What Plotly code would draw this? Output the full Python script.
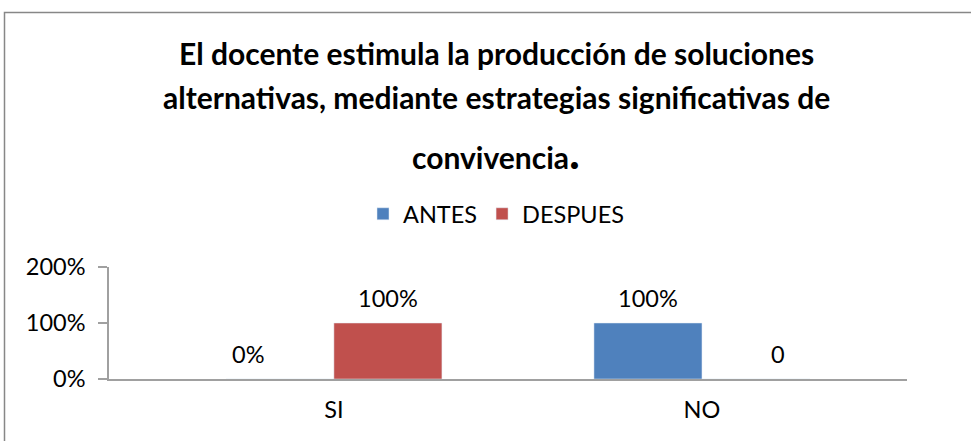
import plotly.graph_objects as go

categories = ["SI", "NO"]
antes = [0, 1]
despues = [1, 0]
antes_labels = ["0%", "100%"]
despues_labels = ["100%", "0"]
series_names = ["ANTES", "DESPUES"]
title_lines = [
    "El docente estimula la producción de soluciones",
    "alternativas, mediante estrategias significativas de",
    "convivencia<span style='font-size:46px'>.</span>",
]
y_ticks = [0, 1, 2]

BLUE = "#4F81BD"
RED = "#C0504D"
FONT = "Lato, Carlito, Calibri, sans-serif"
BODY = 23.5

# plot area in pixels
L, R, T, B = 109, 907, 267, 379
W, H = 971, 441

fig = go.Figure()
fig.add_trace(go.Bar(x=categories, y=antes, name=series_names[0], marker_color=BLUE))
fig.add_trace(go.Bar(x=categories, y=despues, name=series_names[1], marker_color=RED))

def px_x(p):
    return (p - L) / (R - L)

def px_y(p):
    return (B - p) / (B - T)

annotations = []
title_y = [53, 97, 151]
for line, yy in zip(title_lines, title_y):
    annotations.append(dict(
        text="<b>" + line + "</b>", xref="paper", yref="paper",
        x=px_x(496), y=px_y(yy), xanchor="center", yanchor="middle",
        showarrow=False, font=dict(family=FONT, size=30, color="black")))

half = 0.1467
nudge = {(0, 0): -32, (1, 1): 22}
for s, (vals, labs) in enumerate([(antes, antes_labels), (despues, despues_labels)]):
    off = -half if s == 0 else half
    for i, (v, lab) in enumerate(zip(vals, labs)):
        annotations.append(dict(
            text=lab, x=i + off, y=v, xref="x", yref="y",
            xanchor="center", yanchor="middle", yshift=25,
            xshift=nudge.get((s, i), 0), showarrow=False,
            font=dict(family=FONT, size=BODY, color="black")))

fig.update_layout(
    width=W, height=H,
    margin=dict(l=L, r=W - R, t=T, b=H - B, pad=0),
    paper_bgcolor="white", plot_bgcolor="white",
    barmode="group", bargap=0.413, bargroupgap=0,
    font=dict(family=FONT, size=BODY, color="black"),
    showlegend=True,
    legend=dict(orientation="h", x=px_x(496), xanchor="center",
                y=px_y(214), yanchor="middle",
                font=dict(family=FONT, size=BODY, color="black"),
                itemwidth=30, traceorder="normal"),
    annotations=annotations,
    shapes=[dict(type="rect", xref="paper", yref="paper",
                 x0=px_x(4.5), x1=px_x(1000), y0=px_y(12.5), y1=px_y(470),
                 line=dict(color="#878787", width=1.5), layer="below")],
)
fig.update_xaxes(type="category", range=[-0.611, 1.557], showgrid=False,
                 showline=True, linecolor="#A0A0A0", linewidth=1.5,
                 ticks="", ticklabelstandoff=9,
                 tickfont=dict(family=FONT, size=BODY, color="black"),
                 fixedrange=True)
fig.update_yaxes(range=[0, 2], tickvals=y_ticks, tickformat=".0%",
                 showgrid=False, zeroline=False, showline=True,
                 linecolor="#A0A0A0", linewidth=1.5, ticks="outside",
                 ticklen=9, tickcolor="#A0A0A0", tickwidth=1.5,
                 ticklabelstandoff=8,
                 tickfont=dict(family=FONT, size=BODY, color="black"),
                 fixedrange=True)

fig.write_html("out.html", config={"displayModeBar": False},
               post_script="document.body.style.margin='0';document.body.style.overflow='hidden';")
